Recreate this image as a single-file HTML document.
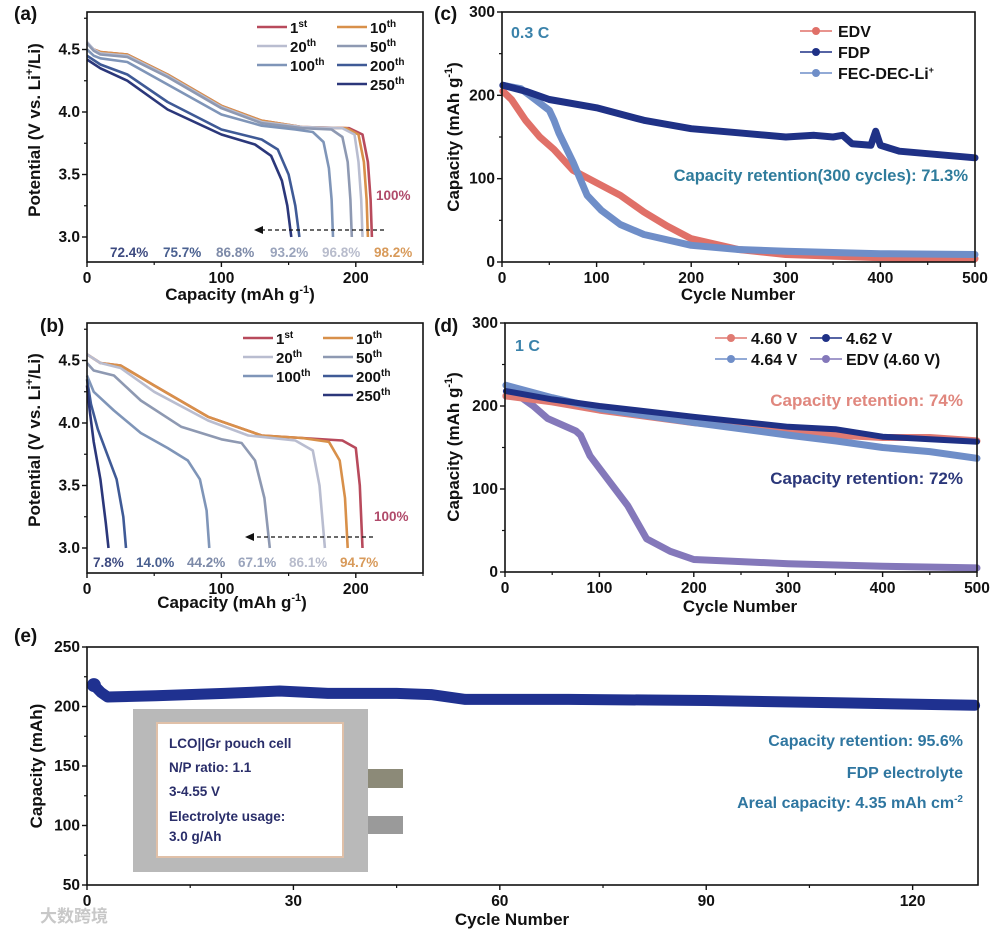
<!DOCTYPE html>
<html><head><meta charset="utf-8">
<style>
body{margin:0;background:#fff;}
svg{display:block;font-family:"Liberation Sans","Noto Sans CJK SC",sans-serif;font-weight:bold;}
</style></head>
<body>
<svg id="fig" width="1003" height="934" viewBox="0 0 1003 934" xmlns="http://www.w3.org/2000/svg">
<rect width="1003" height="934" fill="#fff"/>
<g id="root"></g>
</svg>
<script>
// ---------- Panel (a) data ----------
const aNames=["1st","10th","20th","50th","100th","200th","250th"];
const a1Cap=[0,5,10,30,60,100,130,160,195,205,209,211,212];
const a1V=[4.55,4.50,4.48,4.46,4.30,4.05,3.93,3.88,3.87,3.82,3.6,3.3,3.0];
const a10Cap=[0,5,10,30,60,100,130,160,193,202,206,208,209];
const a10V=[4.55,4.50,4.48,4.46,4.30,4.05,3.93,3.88,3.87,3.82,3.6,3.3,3.0];
const a20Cap=[0,5,10,30,60,100,130,160,190,199,202,204,205];
const a20V=[4.56,4.50,4.47,4.45,4.29,4.04,3.92,3.88,3.87,3.82,3.6,3.3,3.0];
const a50Cap=[0,5,10,30,60,100,130,160,182,190,194,196,197];
const a50V=[4.55,4.49,4.46,4.44,4.28,4.03,3.91,3.87,3.86,3.80,3.6,3.3,3.0];
const a100Cap=[0,5,10,30,60,100,130,155,168,176,180,182,183];
const a100V=[4.50,4.45,4.43,4.40,4.22,3.98,3.89,3.86,3.84,3.76,3.55,3.3,3.0];
const a200Cap=[0,10,30,60,100,130,142,150,155,158];
const a200V=[4.45,4.38,4.30,4.08,3.86,3.78,3.70,3.50,3.25,3.0];
const a250Cap=[0,10,30,60,100,125,137,145,149,152];
const a250V=[4.42,4.35,4.25,4.02,3.82,3.74,3.65,3.45,3.25,3.0];
const aPct=["72.4%","75.7%","86.8%","93.2%","96.8%","98.2%"];
// ---------- Panel (b) data ----------
const b1Cap=[0,10,25,50,90,130,160,190,200,203,205];
const b1V=[4.55,4.48,4.46,4.30,4.05,3.90,3.88,3.86,3.80,3.5,3.0];
const b10Cap=[0,10,25,50,90,130,160,180,188,192,194];
const b10V=[4.55,4.48,4.46,4.30,4.05,3.90,3.88,3.85,3.70,3.4,3.0];
const b20Cap=[0,10,25,50,90,120,155,168,173,177];
const b20V=[4.55,4.48,4.44,4.25,4.02,3.90,3.86,3.78,3.5,3.0];
const b50Cap=[0,5,20,40,70,100,115,125,132,136];
const b50V=[4.48,4.42,4.38,4.18,3.97,3.87,3.84,3.70,3.4,3.0];
const b100Cap=[0,5,20,40,60,75,84,89,91];
const b100V=[4.38,4.25,4.10,3.92,3.80,3.70,3.55,3.3,3.0];
const b200Cap=[0,3,8,15,22,27,29];
const b200V=[4.35,4.15,3.95,3.75,3.55,3.25,3.0];
const b250Cap=[0,2,5,10,14,16];
const b250V=[4.30,4.10,3.85,3.55,3.2,3.0];
const bPct=["7.8%","14.0%","44.2%","67.1%","86.1%","94.7%"];
// ---------- Panel (c) data ----------
const cFdpX=[1,25,50,100,150,200,250,300,330,350,360,370,390,395,400,420,450,500];
const cFdpY=[212,205,195,185,170,160,155,150,152,150,152,142,140,157,140,133,130,125];
const cEdvX=[1,10,25,40,55,75,100,125,150,175,200,250,300,400,500];
const cEdvY=[205,195,170,150,135,110,95,80,60,43,28,15,9,5,4];
const cFecX=[1,20,35,50,55,60,75,90,105,125,150,200,250,300,400,500];
const cFecY=[212,208,195,182,170,155,120,80,62,45,33,20,15,13,10,9];
const cTicks=[0,100,200,300,400,500];
const cYTicks=[0,100,200,300];
// ---------- Panel (d) data ----------
const d460X=[1,50,100,200,300,350,400,450,500];
const d460Y=[212,205,195,180,170,165,162,162,158];
const d462X=[1,50,100,200,300,350,400,450,500];
const d462Y=[218,208,200,187,175,172,163,160,157];
const d464X=[1,50,100,200,300,350,400,450,500];
const d464Y=[225,210,197,180,165,158,150,145,137];
const dEdvX=[1,15,30,45,75,80,90,110,130,150,175,200,300,400,500];
const dEdvY=[212,212,200,185,170,165,140,110,80,40,25,15,10,7,5];
// ---------- Panel (e) data ----------
const eX=[1,2,3,10,20,28,35,45,50,55,70,90,110,129];
const eY=[218,212,208,209,211,213,211,211,210,206,206,205,203,201];
const eXTicks=[0,30,60,90,120];
const eYTicks=[50,100,150,200,250];

const NS="http://www.w3.org/2000/svg";
const root=document.getElementById('root');
function el(tag,attrs,parent){const e=document.createElementNS(NS,tag);for(const k in attrs)e.setAttribute(k,attrs[k]);(parent||root).appendChild(e);return e;}
function txt(s,x,y,size,fill,anchor,parent){const t=el('text',{x:x,y:y,'font-size':size,fill:fill||'#111','text-anchor':anchor||'start'},parent);t.textContent=s;return t;}
function scale(d0,d1,r0,r1){return v=>r0+(v-d0)*(r1-r0)/(d1-d0);}
function pathD(xs,ys,sx,sy){return xs.map((x,i)=>(i?'L':'M')+sx(x).toFixed(1)+','+sy(ys[i]).toFixed(1)).join(' ');}

function frame(x0,y0,x1,y1,name){
  const r=el('rect',{x:x0,y:y0,width:x1-x0,height:y1-y0,fill:'none',stroke:'#111','stroke-width':1.6});
  
  
}
function xTicks(vals,labels,sx,y,minor){
  vals.forEach((v,i)=>{el('line',{x1:sx(v),x2:sx(v),y1:y,y2:y+5,stroke:'#111','stroke-width':1.4});
    const t=txt(labels[i],sx(v),y+21,15.5,'#111','middle');
    
    });
  (minor||[]).forEach(v=>el('line',{x1:sx(v),x2:sx(v),y1:y,y2:y+3,stroke:'#111','stroke-width':1.2}));
}
function yTicks(vals,labels,sy,x,minor){
  vals.forEach((v,i)=>{el('line',{x1:x-5,x2:x,y1:sy(v),y2:sy(v),stroke:'#111','stroke-width':1.4});
    const t=txt(labels[i],x-7,sy(v)+5,15.5,'#111','end');
    
    });
  (minor||[]).forEach(v=>el('line',{x1:x-3,x2:x,y1:sy(v),y2:sy(v),stroke:'#111','stroke-width':1.2}));
}
function yLabel(parts,cx,cy){
  const t=el('text',{x:0,y:0,'font-size':17,fill:'#111','text-anchor':'middle',transform:`translate(${cx},${cy}) rotate(-90)`});
  t.innerHTML=parts;
  
  
}
function xLabel(parts,cx,y){
  const t=el('text',{x:cx,y:y,'font-size':17,fill:'#111','text-anchor':'middle'});
  t.innerHTML=parts;
  
  
}
function panelLabel(s,x,y){const t=txt(s,x,y,19,'#111');}

const capLabel='Capacity (mAh g<tspan dy="-7" font-size="11">-1</tspan><tspan dy="7">)</tspan>';
const potLabel='Potential (V vs. Li<tspan dy="-7" font-size="11">+</tspan><tspan dy="7">/Li)</tspan>';
const curveColors=["#b84a5c","#d8904a","#b9bdd0","#8e99b2","#7f95b8","#3f5a96","#2b377a"];
const pctColors=["#3d4a80","#4a6090","#7d8aa8","#9aa4bc","#b8bccc","#d89a5a"];

function voltagePanel(top,bot,curves,pcts,pctY,pctX,arrow,hundred,legX,legY){
  const sx=scale(0,250,87,423), sy=scale(2.8,4.8,bot,top);
  curves.forEach((c,i)=>{const p=el('path',{d:pathD(c[0],c[1],sx,sy),fill:'none',stroke:curveColors[i],'stroke-width':2.6,'stroke-linejoin':'round'});
    
    });
  frame(87,top,423,bot,'plot-frame');
  xTicks([0,100,200],["0","100","200"],sx,bot,[50,150,250]);
  yTicks([3.0,3.5,4.0,4.5],["3.0","3.5","4.0","4.5"],sy,87,[3.25,3.75,4.25,4.75]);
  pcts.forEach((s,i)=>{const t=txt(s,pctX[i],pctY,13.5,pctColors[i]);});
  const h=txt('100%',hundred[0],hundred[1],13.5,'#b04a6a');
  const ar=el('line',{x1:arrow[0],x2:arrow[1]+8,y1:arrow[2],y2:arrow[2],stroke:'#111','stroke-width':1.3,'stroke-dasharray':'4,3'});
  
  el('path',{d:`M${arrow[1]},${arrow[2]} l9,-4 l0,8 z`,fill:'#111'});
  const pos=[[0,0],[1,0],[0,1],[1,1],[0,2],[1,2],[1,3]];
  aNames.forEach((n,i)=>{const x=legX[pos[i][0]], y=legY+pos[i][1]*19;
    el('line',{x1:x,x2:x+30,y1:y,y2:y,stroke:curveColors[i],'stroke-width':2.4});
    const num=n.replace(/[a-z]+/,''),suf=n.replace(/[0-9]+/,'');
    const t=el('text',{x:x+33,y:y+6,'font-size':15,fill:'#111'});
    t.innerHTML=num+'<tspan dy="-6" font-size="10">'+suf+'</tspan>';
    
    });
}

panelLabel('(a)',14,20);
voltagePanel(12,262,[[a1Cap,a1V],[a10Cap,a10V],[a20Cap,a20V],[a50Cap,a50V],[a100Cap,a100V],[a200Cap,a200V],[a250Cap,a250V]],
  aPct,257,[110,163,216,270,322,374],[384,254,230],[376,200],[257,337],27);
yLabel(potLabel,40,130);
xLabel(capLabel,240,300);

panelLabel('(b)',40,332);
voltagePanel(323,573,[[b1Cap,b1V],[b10Cap,b10V],[b20Cap,b20V],[b50Cap,b50V],[b100Cap,b100V],[b200Cap,b200V],[b250Cap,b250V]],
  bPct,567,[93,136,187,238,289,340],[373,245,537],[374,521],[243,323],338);
yLabel(potLabel,40,440);
xLabel(capLabel,232,608);

function series(xs,ys,sx,sy,color,name,w){
  const g=el('g',{});
  
  
  el('path',{d:pathD(xs,ys,sx,sy),fill:'none',stroke:color,'stroke-width':w,'stroke-linejoin':'round','stroke-linecap':'round'},g);
}

panelLabel('(c)',434,20);
(function(){
  const sx=scale(0,500,502,975), sy=scale(0,300,262,12);
  series(cEdvX,cEdvY,sx,sy,'#e07068','series-edv',7);
  series(cFecX,cFecY,sx,sy,'#6f8ec8','series-fec-dec-li',7);
  series(cFdpX,cFdpY,sx,sy,'#1f3186','series-fdp',7);
  frame(502,12,975,262,'plot-frame-c');
  xTicks(cTicks,cTicks.map(String),sx,262,[50,150,250,350,450]);
  yTicks(cYTicks,cYTicks.map(String),sy,502,[50,150,250]);
  xLabel('Cycle Number',738,300);
  yLabel(capLabel,459,137);
  const t=txt('0.3 C',511,38,16,'#3a82aa');
  const leg=[['EDV','#e07068'],['FDP','#1f3186'],['FEC-DEC-Li','#6f8ec8']];
  leg.forEach((l,i)=>{const y=31+i*21;
    el('line',{x1:800,x2:832,y1:y,y2:y,stroke:l[1],'stroke-width':1.5});
    el('circle',{cx:816,cy:y,r:4,fill:l[1]});
    const tt=el('text',{x:838,y:y+6,'font-size':16,fill:'#111'});
    tt.innerHTML=l[0]+(i==2?'<tspan dy="-6" font-size="9">+</tspan>':'');
    
    });
  const r=txt('Capacity retention(300 cycles): 71.3%',968,181,16.5,'#2f7c9c','end');
  
})();

panelLabel('(d)',434,332);
(function(){
  const sx=scale(0,500,505,977), sy=scale(0,300,572,323);
  series(dEdvX,dEdvY,sx,sy,'#8478ba','series-edv-460',7);
  series(d460X,d460Y,sx,sy,'#e07a72','series-460v',7);
  series(d464X,d464Y,sx,sy,'#6f8ec8','series-464v',7);
  series(d462X,d462Y,sx,sy,'#1f3186','series-462v',6);
  frame(505,323,977,572,'plot-frame-d');
  xTicks(cTicks,cTicks.map(String),sx,572,[50,150,250,350,450]);
  yTicks(cYTicks,cYTicks.map(String),sy,505,[50,150,250]);
  xLabel('Cycle Number',740,612);
  yLabel(capLabel,459,447);
  const t=txt('1 C',515,351,16,'#3a82aa');
  const leg=[['4.60 V','#e07a72',715,338],['4.62 V','#1f3186',810,338],['4.64 V','#6f8ec8',715,359],['EDV (4.60 V)','#8478ba',810,359]];
  leg.forEach(l=>{el('line',{x1:l[2],x2:l[2]+32,y1:l[3],y2:l[3],stroke:l[1],'stroke-width':1.5});
    el('circle',{cx:l[2]+16,cy:l[3],r:4,fill:l[1]});
    const tt=txt(l[0],l[2]+36,l[3]+6,16,'#111');
    });
  const r1=txt('Capacity retention: 74%',963,406,17,'#e0877e','end');
  
  const r2=txt('Capacity retention: 72%',963,484,17,'#2b377a','end');
  
})();

panelLabel('(e)',14,642);
(function(){
  const sx=scale(0,129.5,87,978), sy=scale(50,250,885,647);
  series(eX,eY,sx,sy,'#1f3190','series-pouch-cell',11);
  el('circle',{cx:sx(eX[0]),cy:sy(eY[0]),r:7,fill:'#1f3190'});
  frame(87,647,978,885,'plot-frame-e');
  xTicks(eXTicks,eXTicks.map(String),sx,885,[15,45,75,105]);
  yTicks(eYTicks,eYTicks.map(String),sy,87,[75,125,175,225]);
  xLabel('Cycle Number',512,925);
  yLabel('Capacity (mAh)',42,766);
  const g=el('g',{});
  
  
  el('rect',{x:133,y:709,width:235,height:163,fill:'#b9b9b9'},g);
  el('rect',{x:368,y:769,width:35,height:19,fill:'#8c8a78'},g);
  el('rect',{x:368,y:816,width:35,height:18,fill:'#9a9a9a'},g);
  el('rect',{x:157,y:723,width:186,height:134,fill:'#fff',stroke:'#e0c0a8','stroke-width':2},g);
  const lines=[['LCO||Gr pouch cell',748],['N/P ratio: 1.1',772],['3-4.55 V',796],['Electrolyte usage:',821],['3.0 g/Ah',841]];
  lines.forEach(l=>{const t=txt(l[0],169,l[1],13.5,'#2a2e6a','start',g);});
  const n1=txt('Capacity retention: 95.6%',963,746,16,'#2f76a0','end');
  
  const n2=txt('FDP electrolyte',963,778,16,'#2f76a0','end');
  
  const n3=el('text',{x:963,y:808,'font-size':16,fill:'#2f76a0','text-anchor':'end'});
  n3.innerHTML='Areal capacity: 4.35 mAh cm<tspan dy="-6" font-size="10">-2</tspan>';
  
  const wm=txt('大数跨境',40,922,17,'#c8c8c8','start');
  
})();
</script>
</body></html>
